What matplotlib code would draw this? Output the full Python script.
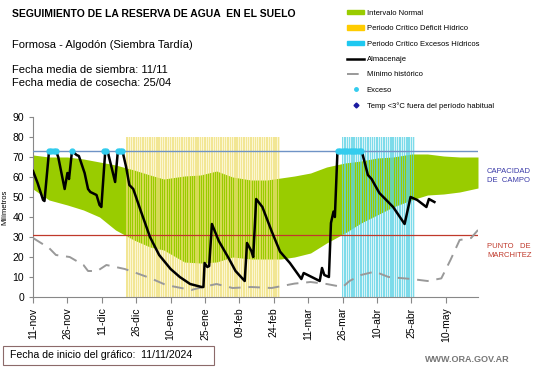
import matplotlib
matplotlib.use("Agg")
import matplotlib.pyplot as plt
from matplotlib.lines import Line2D
from matplotlib.patches import Patch, Rectangle
import numpy as np

plt.rcParams['font.family'] = ['Liberation Sans', 'DejaVu Sans']

# días desde el 11/11/2024
dias_banda = [0, 7, 15, 22, 29, 36, 44, 51, 57, 66, 73, 80, 87, 95, 102, 108,
              114, 121, 128, 136, 143, 150, 157, 165, 172, 179, 186, 194]
banda_sup = [71, 70, 70, 69, 67.5, 66, 63.5, 61, 59, 60.5, 61, 63, 60, 58.5, 58.5, 59.5,
             60.5, 62, 65, 67, 68, 69.5, 70, 71.5, 71.5, 70.5, 70, 70]
banda_inf = [54, 48.5, 46, 43.5, 40, 33.5, 28.5, 25, 23.5, 17.5, 17, 17.5, 20, 19, 19, 19,
             20, 22, 27, 32, 37, 41, 45, 48.5, 51, 51.5, 52.5, 54.5]

dias_min = [0, 7, 10, 16, 22, 24, 28, 32, 36, 40, 45, 51, 58, 69, 74, 80, 87, 95, 104,
            114, 121, 128, 135, 138, 143, 149, 155, 165, 172, 178, 182, 186, 191, 194]
minimo = [29.5, 24.5, 21, 20, 16, 13, 13, 16, 15, 14, 12, 9.5, 6, 3.5, 5, 6.5, 4.5, 5, 4.5,
          6.7, 7.5, 6.5, 5, 8, 11, 12.7, 10, 9, 8, 9.3, 18.5, 28.5, 29.5, 33.5]

dias_alm = [0, 2, 4.4, 5, 7, 10, 11, 13.8, 15, 15.7, 17, 19, 20, 22.5, 24, 25, 27.7, 29,
            29.8, 31.5, 32.5, 35.8, 37, 39, 40.6, 42, 43.7, 47, 51, 55, 60, 64, 68.5, 73.5,
            74.3, 74.8, 76, 76.8, 78, 81, 85.5, 88.3, 92.3, 93.3, 95.2, 96, 97.3, 100, 104,
            107.7, 112, 117, 118, 125, 126, 127, 129, 129.9, 131, 131.6, 132.7, 133.3,
            143.3, 146, 147.6, 151, 157, 162, 164.6, 167.5, 171.5, 172.6, 175]
almacenaje = [63, 57, 48.5, 48, 73, 73, 70, 54, 62, 59, 73, 71, 70.5, 62, 54, 52.5, 51, 46,
              45, 73, 73, 57.5, 73, 73, 65, 56, 54, 43, 30, 21, 14, 10, 6.5, 5,
              5, 17, 15, 15.5, 36.5, 28, 19, 13, 8, 27, 23, 20, 49, 45, 33,
              22.7, 17, 9, 12, 8, 14.5, 11, 10, 37, 42.7, 40, 72, 73,
              73, 61, 59, 52, 45, 36.5, 50, 48.5, 45, 49, 47.5]

dias_exceso = [7, 8, 9, 10, 17, 31, 32, 37, 38, 39,
               133, 134, 135, 136, 137, 138, 139, 140, 141, 142, 143]
exceso = [73] * len(dias_exceso)

deficit_ini, deficit_fin = 41, 107
excesos_ini, excesos_fin = 135, 166
altura_periodo = 80

capacidad_campo = 73
punto_marchitez = 31

ticks_dias = [0, 15, 30, 45, 60, 75, 90, 105, 120, 135, 150, 165, 180]
ticks_labels = ['11-nov', '26-nov', '11-dic', '26-dic', '10-ene', '25-ene', '09-feb',
                '24-feb', '11-mar', '26-mar', '10-abr', '25-abr', '10-may']

fig = plt.figure(figsize=(5.41, 3.68), dpi=100)
ax = fig.add_axes([33 / 541, 1 - 297 / 368, (478 - 33) / 541, (297 - 117) / 368])

verde = '#99cc00'
amarillo = '#efe07a'
celeste = '#5fd3e6'

# fondo tenue de los periodos criticos
ax.fill_between([deficit_ini - 0.5, deficit_fin + 0.5], 0, altura_periodo,
                color='#fcf6d2', lw=0, zorder=0.5)
ax.fill_between([excesos_ini - 0.5, excesos_fin + 0.5], 0, altura_periodo,
                color='#d8f4f8', lw=0, zorder=0.5)

ax.fill_between(dias_banda, banda_inf, banda_sup, color=verde, lw=0, zorder=1)

d_def = np.arange(deficit_ini, deficit_fin + 1)
ax.bar(d_def, [altura_periodo] * len(d_def), width=0.6, color=amarillo, alpha=0.7,
       lw=0, zorder=2, antialiased=False)
d_exc = np.arange(excesos_ini, excesos_fin + 1)
ax.bar(d_exc, [altura_periodo] * len(d_exc), width=0.6, color=celeste, alpha=0.75,
       lw=0, zorder=2, antialiased=False)

ax.axhline(capacidad_campo, color='#6f93c6', lw=1, zorder=3)
ax.axhline(punto_marchitez, color='#c0392b', lw=0.9, zorder=3)

ax.plot(dias_min, minimo, color='#999999', lw=1.4, dashes=(6, 4), zorder=4)
ax.plot(dias_alm, almacenaje, color='black', lw=1.8, zorder=5)
ax.plot(dias_exceso, exceso, 'o', color='#33ccee', ms=3.5, zorder=6)

ax.set_xlim(0, 194)
ax.set_ylim(0, 90)
ax.set_yticks(range(0, 91, 10))
ax.set_xticks(ticks_dias)
ax.set_xticklabels(ticks_labels, rotation=90, fontsize=7.5)
ax.tick_params(axis='y', labelsize=7.5, length=3, color='#888888')
ax.tick_params(axis='x', length=4, color='#888888')
ax.set_ylabel('Milímetros', fontsize=5.5, labelpad=3)
for s in ['top', 'right']:
    ax.spines[s].set_visible(False)
for s in ['left', 'bottom']:
    ax.spines[s].set_color('#888888')
    ax.spines[s].set_linewidth(0.8)

# textos
fig.text(12 / 541, 1 - 14 / 368, 'SEGUIMIENTO DE LA RESERVA DE AGUA  EN EL SUELO',
         fontsize=7.5, fontweight='bold', va='center')
fig.text(12 / 541, 1 - 45 / 368, 'Formosa - Algodón (Siembra Tardía)', fontsize=8, va='center')
fig.text(12 / 541, 1 - 70 / 368, 'Fecha media de siembra: 11/11', fontsize=8, va='center')
fig.text(12 / 541, 1 - 83 / 368, 'Fecha media de cosecha: 25/04', fontsize=8, va='center')

fig.text(487 / 541, 1 - 176 / 368, 'CAPACIDAD\nDE  CAMPO', fontsize=5.5, color='#3a3aa8',
         va='center', linespacing=1.5)
fig.text(487 / 541, 1 - 251 / 368, 'PUNTO   DE\nMARCHITEZ', fontsize=5.5, color='#c0392b',
         va='center', linespacing=1.5)

fig.patches.append(Rectangle((3 / 541, 1 - 365 / 368), 211 / 541, 19 / 368,
                             transform=fig.transFigure, fc='white', ec='#8c6a6a', lw=0.8))
fig.text(10 / 541, 1 - 355.5 / 368, 'Fecha de inicio del gráfico:  11/11/2024', fontsize=7.6,
         va='center')
fig.text(425 / 541, 1 - 360 / 368, 'WWW.ORA.GOV.AR', fontsize=6.5, color='#777777',
         va='center', fontweight='bold')

handles = [
    Patch(color=verde),
    Patch(color='#ffcc00'),
    Patch(color='#1ec8f0'),
    Line2D([], [], color='black', lw=1.8),
    Line2D([], [], color='#999999', lw=1.4, dashes=(6, 4)),
    Line2D([], [], color='#33ccee', marker='o', ms=2.5, ls='none'),
    Line2D([], [], color='#1a1aa0', marker='D', ms=2.5, ls='none'),
]
labels = ['Intervalo Normal', 'Periodo Crítico Déficit Hídrico', 'Periodo Crítico Excesos Hídricos',
          'Almacenaje', 'Mínimo histórico', 'Exceso', 'Temp <3°C fuera del período habitual']
fig.legend(handles, labels, loc='upper left', bbox_to_anchor=(343 / 541, 1 - 6 / 368),
           fontsize=5.5, frameon=False, handlelength=2.3, handleheight=0.5,
           labelspacing=1.1, handletextpad=0.3, borderpad=0)

fig.savefig('out.png', dpi=100)
